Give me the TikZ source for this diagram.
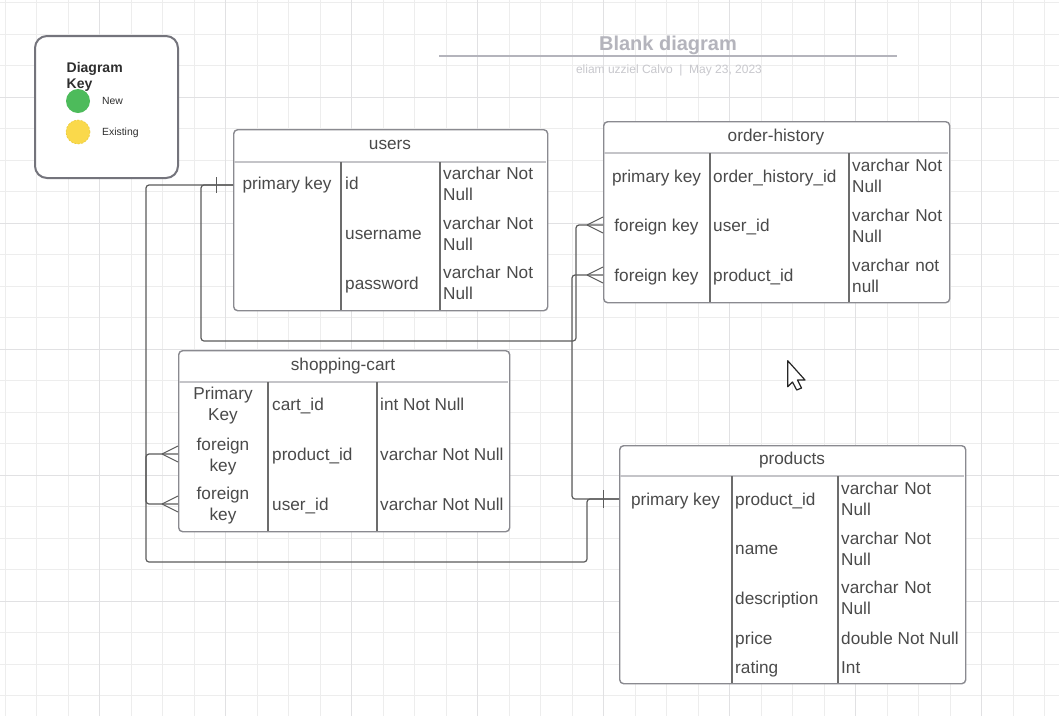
\documentclass[tikz,border=0pt]{standalone}
\usepackage{fontspec}
\setmainfont{Liberation Sans}
\definecolor{gridminor}{HTML}{EDEDED}
\definecolor{gridmajor}{HTML}{E1E1E3}
\definecolor{tblc}{HTML}{8A8A90}
\definecolor{hdrc}{HTML}{C4C4C8}
\definecolor{colc}{HTML}{6C6C6C}
\definecolor{txtc}{HTML}{4A4A4A}
\definecolor{connc}{HTML}{5C5C5C}
\definecolor{keyc}{HTML}{74747C}
\definecolor{keytxt}{HTML}{2E2E2E}
\definecolor{greenc}{HTML}{4DBB5B}
\definecolor{yellowc}{HTML}{FAD94B}
\definecolor{yellowb}{HTML}{EACB3A}
\definecolor{titlec}{HTML}{B4B4BC}
\definecolor{subc}{HTML}{C8C8CD}
\newcommand\tblfont{\fontsize{17.2}{21}\selectfont}
\begin{document}
\begin{tikzpicture}[x=1pt,y=-1pt,
  txt/.style={inner sep=0, text=txtc, font=\tblfont},
  cellL/.style={txt, anchor=base west},
  cellC/.style={txt, anchor=base},
  cellT/.style={txt, anchor=base west, text width=108, align=left},
  cellK/.style={txt, anchor=base, text width=88, align=center},
  tbl/.style={draw=tblc, line width=1.4, rounded corners=4, fill=white},
  hdr/.style={draw=hdrc, line width=1.8},
  coll/.style={draw=colc, line width=1.2},
  conn/.style={draw=connc, line width=1.2, rounded corners=3},
  crowst/.style={draw=connc, line width=1.0},
  gridmin/.style={draw=gridminor, line width=1},
  gridmaj/.style={draw=gridmajor, line width=1.2}]
\useasboundingbox (0,0) rectangle (1059,716);
\fill[white] (0,0) rectangle (1059,716);
% grid
\foreach \k in {0,...,33} {\draw[gridmin] ({5.2+31.5*\k},0) -- ({5.2+31.5*\k},716);}
\foreach \k in {0,...,22} {\draw[gridmin] (0,{2.7+31.5*\k}) -- (1059,{2.7+31.5*\k});}
\foreach \k in {0,...,7} {\draw[gridmaj] ({99.7+126*\k},0) -- ({99.7+126*\k},716);}
\foreach \k in {0,...,5} {\draw[gridmaj] (0,{97.3+126*\k}) -- (1059,{97.3+126*\k});}

% title
\node[inner sep=0, anchor=base, text=titlec, font=\bfseries\fontsize{20}{24}\selectfont] (title) at (668,50) {Blank diagram};
\draw[draw=titlec, line width=2] (439,56) -- (897,56);
\node[inner sep=0, anchor=base, text=subc, font=\fontsize{12}{14}\selectfont] (subtitle) at (669,73.5) {eliam uzziel Calvo \ | \ May 23, 2023};

% key
\draw[draw=keyc, line width=2, rounded corners=12, fill=white] (35,36) rectangle (178,178);
\node[inner sep=0, anchor=base west, text=keytxt, font=\bfseries\fontsize{14}{16}\selectfont, text width=100, align=left] (keytitle) at (66.5,72) {Diagram\\Key};
\node[circle, fill=greenc, minimum size=24, inner sep=0] (knew) at (78,101) {};
\node[circle, fill=yellowc, draw=yellowb, dash pattern=on 2pt off 1.5pt, line width=0.6, minimum size=24, inner sep=0] (kexist) at (78,132) {};
\node[inner sep=0, anchor=base west, text=keytxt, font=\fontsize{10.4}{12}\selectfont] (knewt) at (102,104.5) {New};
\node[inner sep=0, anchor=base west, text=keytxt, font=\fontsize{10.4}{12}\selectfont] (kexistt) at (102,135) {Existing};

% users table
\node[tbl, anchor=north west, minimum width=314, minimum height=181, inner sep=0] (users) at (233,129) {};
\draw[hdr] (233.7,162) -- (546.3,162);
\draw[coll] (341,162) -- (341,310) (440,162) -- (440,310);
\node[cellC] (u-title) at (390,149) {users};
\node[cellC] (u-pk) at (287,189) {primary key};
\node[cellL] (u-id) at (345,189) {id};
\node[cellT] (u-idt) at (443,179) {varchar Not\\Null};
\node[cellL] (u-un) at (345,239) {username};
\node[cellT] (u-unt) at (443,229) {varchar Not\\Null};
\node[cellL] (u-pw) at (345,289) {password};
\node[cellT] (u-pwt) at (443,278) {varchar Not\\Null};

% order-history table
\node[tbl, anchor=north west, minimum width=346, minimum height=181, inner sep=0] (oh) at (603,121) {};
\draw[hdr] (603.7,153) -- (948.3,153);
\draw[coll] (710,153) -- (710,302) (849,153) -- (849,302);
\node[cellC] (oh-title) at (776,141) {order-history};
\node[cellC] (oh-pk) at (656.5,182) {primary key};
\node[cellL] (oh-id) at (713,182) {order\_history\_id};
\node[cellT] (oh-idt) at (852,171) {varchar Not\\Null};
\node[cellC] (oh-fk1) at (656.5,231) {foreign key};
\node[cellL] (oh-uid) at (713,231) {user\_id};
\node[cellT] (oh-uidt) at (852,221) {varchar Not\\Null};
\node[cellC] (oh-fk2) at (656.5,281) {foreign key};
\node[cellL] (oh-pid) at (713,281) {product\_id};
\node[cellT] (oh-pidt) at (852,271) {varchar not\\null};

% shopping-cart table
\node[tbl, anchor=north west, minimum width=331, minimum height=181, inner sep=0] (sc) at (178,350) {};
\draw[hdr] (178.7,382) -- (508.3,382);
\draw[coll] (268,382) -- (268,531) (377,382) -- (377,531);
\node[cellC] (sc-title) at (343,370) {shopping-cart};
\node[cellK] (sc-pk) at (223,399) {Primary\\Key};
\node[cellL] (sc-cid) at (272,410) {cart\_id};
\node[cellL] (sc-cidt) at (380,410) {int Not Null};
\node[cellK] (sc-fk1) at (223,450) {foreign\\key};
\node[cellL] (sc-pid) at (272,460) {product\_id};
\node[cellL] (sc-pidt) at (380,460) {varchar Not Null};
\node[cellK] (sc-fk2) at (223,499) {foreign\\key};
\node[cellL] (sc-uid) at (272,510) {user\_id};
\node[cellL] (sc-uidt) at (380,510) {varchar Not Null};

% products table
\node[tbl, anchor=north west, minimum width=346, minimum height=238, inner sep=0] (pr) at (619,445) {};
\draw[hdr] (619.7,476) -- (964.3,476);
\draw[coll] (732,476) -- (732,683) (838,476) -- (838,683);
\node[cellC] (pr-title) at (792,464) {products};
\node[cellC] (pr-pk) at (675.5,505) {primary key};
\node[cellL] (pr-id) at (735,505) {product\_id};
\node[cellT] (pr-idt) at (841,494) {varchar Not\\Null};
\node[cellL] (pr-name) at (735,554) {name};
\node[cellT] (pr-namet) at (841,544) {varchar Not\\Null};
\node[cellL] (pr-desc) at (735,604) {description};
\node[cellT] (pr-desct) at (841,593) {varchar Not\\Null};
\node[cellL] (pr-price) at (735,644) {price};
\node[cellL] (pr-pricet) at (841,644) {double Not Null};
\node[cellL] (pr-rate) at (735,673) {rating};
\node[cellL] (pr-ratet) at (841,673) {Int};

% attachment points
\coordinate (usersPK) at (233,185);
\coordinate (ohUser) at (603,225);
\coordinate (ohProd) at (603,275);
\coordinate (scProd) at (178,454);
\coordinate (scUser) at (178,504);
\coordinate (prPK) at (619,499);

% connectors
\draw[conn] (usersPK) -- (201,185) -- (201,341) -- (576,341) -- (576,225) -- (ohUser);
\draw[conn] (usersPK) -- (146,185) -- (146,504) -- (scUser);
\draw[conn] (prPK) -- (572,499) -- (572,275) -- (ohProd);
\draw[conn] (prPK) -- (587,499) -- (587,562) -- (146,562) -- (146,454) -- (scProd);
% one marks
\draw[crowst] (216,177) -- (216,193);
\draw[crowst] (603,490) -- (603,508);
% crow's feet
\foreach \c in {ohUser,ohProd,scProd,scUser} {
  \draw[crowst] (\c) ++(-16,0) -- ++(16,-8);
  \draw[crowst] (\c) ++(-16,0) -- ++(16,8);
}

% mouse cursor
\draw[fill=white, draw=black!85, line width=1.2, line join=round] (787.7,360.7) -- (787.7,386.7) -- (792.5,382) -- (796.7,390) -- (801.5,388) -- (797.5,380) -- (805,380) -- cycle;
\end{tikzpicture}
\end{document}
